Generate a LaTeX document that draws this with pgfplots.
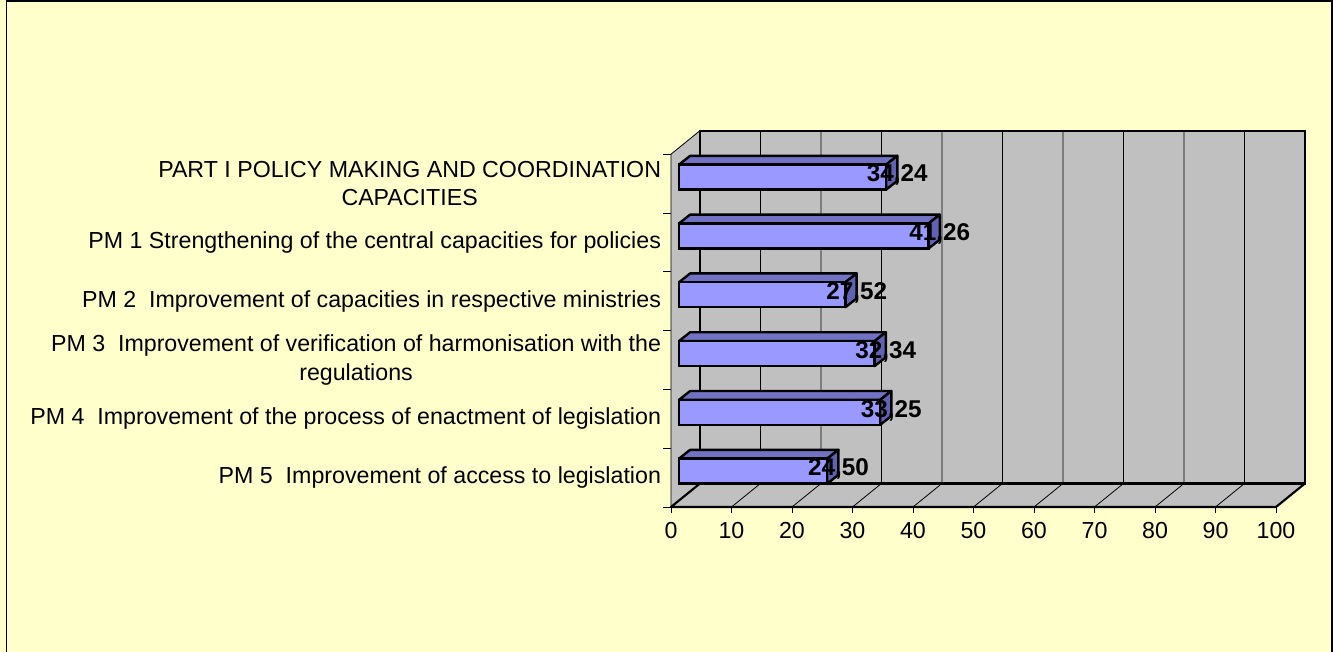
\documentclass[border=0pt]{standalone}
\usepackage{pgfplots}
\pgfplotsset{compat=1.18}
\usepackage{pgfplotstable}
\usepackage{fontspec}
\setmainfont{Liberation Sans}

\definecolor{bgyellow}{HTML}{FFFFCC}
\definecolor{wallgray}{HTML}{C0C0C0}
\definecolor{barfront}{HTML}{9999FF}
\definecolor{bartop}{HTML}{7272C4}
\definecolor{barside}{HTML}{6262B4}

% i = position from the bottom, v = score
\pgfplotstableread{
i v
0 24.50
1 33.25
2 32.34
3 27.52
4 41.26
5 34.24
}\scores

\begin{document}
\begin{tikzpicture}
% 1 px of the picture = 0.75pt; (0,0) is the front left corner of the floor
\useasboundingbox (-503.25pt,-108.75pt) rectangle (496.5pt,380.25pt);
\fill[bgyellow] (-503.25pt,-108.75pt) rectangle (496.5pt,380.25pt);
\draw[black, line width=1pt] (-498.4pt,-120pt) -- (-498.4pt,379.6pt) -- (495.8pt,379.6pt) -- (495.8pt,-120pt);

\begin{axis}[
    at={(0,0)}, anchor=south west,
    x=4.5375pt, y=44.1pt,
    xmin=-1.32, xmax=103.47,
    ymin=-0.61, ymax=5.79,
    clip=false,
    no markers,
    axis lines*=left,
    axis line style={draw=none},
    tick align=outside,
    tick style={black, line width=0.6pt},
    major tick length=4.5pt,
    minor tick length=6pt,
    major y tick style={draw=none},
    xtick={-1.32,8.68,18.68,28.68,38.68,48.68,58.68,68.68,78.68,88.68,98.68},
    xticklabels={0,10,20,30,40,50,60,70,80,90,100},
    ytick={-0.11,0.89,1.89,2.89,3.89,4.89},
    minor ytick={-0.61,0.39,1.39,2.39,3.39,4.39,5.39},
    yticklabels={
        {PM 5\ \ Improvement of access to legislation},
        {PM 4\ \ Improvement of the process of enactment of legislation},
        {PM 3\ \ Improvement of verification of harmonisation with the\\regulations},
        {PM 2\ \ Improvement of capacities in respective ministries},
        {PM 1 Strengthening of the central capacities for policies},
        {PART I POLICY MAKING AND COORDINATION\\CAPACITIES}},
    ticklabel style={font=\fontsize{17.4}{21.5}\selectfont, inner sep=0pt},
    yticklabel style={align=center, xshift=-2.8pt},
    xticklabel style={yshift=-7pt},
]
% walls and floor
\addplot[fill=wallgray, draw=black, line width=0.6pt] coordinates {(-1.32,-0.61) (3.47,-0.21) (3.47,5.79) (-1.32,5.39)} -- cycle;
\addplot[fill=wallgray, draw=black, line width=1.6pt, line join=round] coordinates {(-1.32,-0.61) (98.68,-0.61) (103.47,-0.21) (3.47,-0.21)} -- cycle;
\addplot[fill=wallgray, draw=black, line width=1.6pt] coordinates {(3.47,-0.21) (103.47,-0.21) (103.47,5.79) (3.47,5.79)} -- cycle;
\pgfplotsinvokeforeach{13.47,23.47,33.47,43.47,53.47,63.47,73.47,83.47,93.47}{
  \draw[black, line width=0.6pt] (axis cs:#1,5.79) -- (axis cs:#1,-0.21) -- ++(axis direction cs:-4.79,-0.4);
}
% top and side of each bar
\pgfplotsinvokeforeach{0,...,5}{
  \pgfplotstablegetelem{#1}{v}\of\scores
  \pgfmathsetmacro\xf{\pgfplotsretval}
  \pgfmathsetmacro\xb{\pgfplotsretval+1.85}
  \pgfmathsetmacro\yft{#1+0.2125}
  \pgfmathsetmacro\ybt{#1+0.3625}
  \pgfmathsetmacro\yfb{#1-0.2125}
  \pgfmathsetmacro\ybb{#1-0.0625}
  \addplot[fill=bartop, draw=black, line width=1.8pt, line join=round] coordinates {(0,\yft) (\xf,\yft) (\xb,\ybt) (1.85,\ybt)} -- cycle;
  \addplot[fill=barside, draw=black, line width=1.8pt, line join=round] coordinates {(\xf,\yfb) (\xb,\ybb) (\xb,\ybt) (\xf,\yft)} -- cycle;
}
% front of the bars
\addplot[xbar, bar width=0.425, fill=barfront, draw=black, line width=1.8pt] table[x=v, y=i] {\scores};
% value labels
\addplot[only marks, mark=none, point meta=explicit,
    nodes near coords={\pgfmathprintnumber[fixed, fixed zerofill, precision=2, use comma, assume math mode=true]{\pgfplotspointmeta}},
    every node near coord/.append style={anchor=center, inner sep=0pt, font=\bfseries\fontsize{18.2}{20}\selectfont}]
    table[x expr=\thisrow{v}+1.85, y expr=\thisrow{i}+0.03, meta=v] {\scores};
\end{axis}
\end{tikzpicture}
\end{document}
